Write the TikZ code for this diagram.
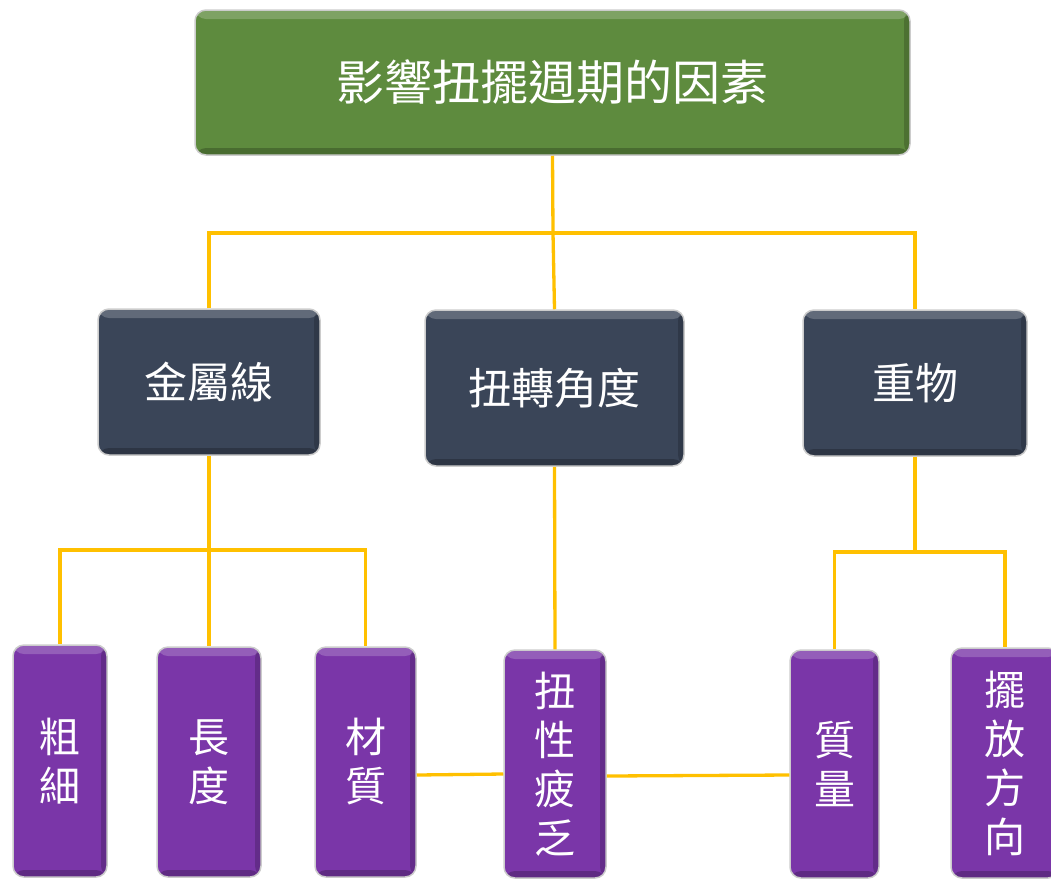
\documentclass[tikz,border=0pt]{standalone}
\usepackage{fontspec}
\setmainfont{Noto Sans CJK TC}
\definecolor{topgreen}{RGB}{94,139,62}
\definecolor{slate}{RGB}{58,69,88}
\definecolor{violet}{RGB}{122,54,168}
\definecolor{gold}{RGB}{255,192,0}
\begin{document}
\begin{tikzpicture}[x=1pt,y=-1pt,
  box/.style={draw=gray!40, line width=1.5pt, rounded corners=11pt, text=white, inner sep=0pt, align=center,
    path picture={
      \fill[white,opacity=0.2] (path picture bounding box.north west) rectangle ([yshift=-9pt]path picture bounding box.north east);
      \fill[black,opacity=0.22] (path picture bounding box.south west) rectangle ([yshift=7pt]path picture bounding box.south east);
      \fill[black,opacity=0.18] (path picture bounding box.north east) rectangle ([xshift=-6pt]path picture bounding box.south east);
    }},
  topbox/.style={box, fill=topgreen, font=\fontsize{48}{54}\selectfont},
  midbox/.style={box, fill=slate, font=\fontsize{43}{48}\selectfont},
  lowbox/.style={box, fill=violet, font=\fontsize{41}{49}\selectfont},
  link/.style={draw=gold, line width=3.3pt}
]
\useasboundingbox (0,0) rectangle (1051,879);

\node[topbox, minimum width=715, minimum height=145] (top) at (552.5,82.5) {影響扭擺週期的因素};

\node[midbox, minimum width=222, minimum height=146] (m1) at (209,382) {金屬線};
\node[midbox, minimum width=259, minimum height=156] (m2) at (554.5,388) {扭轉角度};
\node[midbox, minimum width=224, minimum height=146] (m3) at (915,383) {重物};

\node[lowbox, minimum width=94, minimum height=232] (b1) at (60,761) {粗\\細};
\node[lowbox, minimum width=104, minimum height=230] (b2) at (209,762) {長\\度};
\node[lowbox, minimum width=101, minimum height=230] (b3) at (365.5,762) {材\\質};
\node[lowbox, minimum width=102, minimum height=228] (b4) at (555,764) {扭\\性\\疲\\乏};
\node[lowbox, minimum width=89, minimum height=228] (b5) at (834.5,764) {質\\量};
\node[lowbox, minimum width=108, minimum height=230] (b6) at (1005,763) {擺\\放\\方\\向};

\coordinate (j1) at (553,233);
\coordinate (j2) at (209,550);
\coordinate (j3) at (915,552);

\begin{scope}[on background layer/.try]
\draw[link] (top.south) -- (j1);
\draw[link] (m1.north) |- (j1) -| (m3.north);
\draw[link] (j1) -- (m2.north);
\draw[link] (m1.south) -- (j2);
\draw[link] (b1.north) |- (j2) -| (b3.north);
\draw[link] (j2) -- (b2.north);
\draw[link] (m2.south) -- (b4.north);
\draw[link] (m3.south) -- (j3);
\draw[link] (b5.north) |- (j3) -| (b6.north);
\draw[link] ([yshift=-13pt]b3.east) -- ([yshift=-10pt]b4.west);
\draw[link] ([yshift=-12pt]b4.east) -- ([yshift=-11pt]b5.west);
\end{scope}
\end{tikzpicture}
\end{document}
